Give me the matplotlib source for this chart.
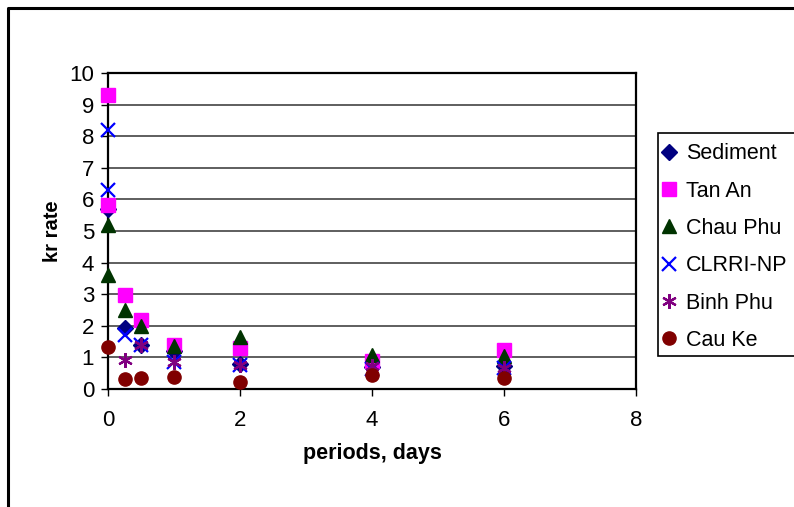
import matplotlib
matplotlib.use("Agg")
import matplotlib.pyplot as plt
from matplotlib.lines import Line2D
from matplotlib.patches import Rectangle

# ---- data -------------------------------------------------------------
sediment_x = [0, 0.25, 0.5, 1, 2, 4, 6]
sediment_y = [5.7, 1.93, 1.40, 1.20, 0.80, 0.70, 0.72]

tan_an_x = [0, 0, 0.25, 0.5, 1, 2, 4, 6]
tan_an_y = [9.30, 5.82, 2.97, 2.18, 1.40, 1.30, 0.88, 1.22]

chau_phu_x = [0, 0, 0.25, 0.5, 1, 2, 4, 6]
chau_phu_y = [5.20, 3.62, 2.50, 1.98, 1.35, 1.66, 1.08, 1.03]

clrri_x = [0, 0, 0.25, 0.5, 1, 2, 4, 6]
clrri_y = [8.20, 6.30, 1.70, 1.38, 0.85, 0.75, 0.62, 0.66]

binh_phu_x = [0.25, 0.5, 1, 2, 4, 6]
binh_phu_y = [0.93, 1.38, 0.85, 0.75, 0.72, 0.68]

cau_ke_x = [0, 0.25, 0.5, 1, 2, 4, 6]
cau_ke_y = [1.33, 0.32, 0.35, 0.38, 0.22, 0.45, 0.35]

series_names = ["Sediment", "Tan An", "Chau Phu", "CLRRI-NP", "Binh Phu", "Cau Ke"]
x_ticks = [0, 2, 4, 6, 8]
y_ticks = list(range(0, 11))

# ---- figure -----------------------------------------------------------
W, H = 794, 507
fig = plt.figure(figsize=(W / 100, H / 100), dpi=100)
fig.patch.set_facecolor("white")

def fx(px):
    return px / W

def fy(py):
    return 1 - py / H

font = "Liberation Sans"
plt.rcParams["font.family"] = [font, "DejaVu Sans"]

ax = fig.add_axes([fx(108), fy(389), fx(636) - fx(108), fy(73) - fy(389)])

styles = [
    dict(marker="D", color="#000080", ms=8.5),
    dict(marker="s", color="#FF00FF", ms=9.5),
    dict(marker="^", color="#003300", ms=10),
    dict(marker="x", color="#0000FF", ms=10.5, mew=1.6),
    dict(marker=(6, 2, 0), color="#800080", ms=10.5, mew=1.6),
    dict(marker="o", color="#800000", ms=9.5),
]
data = [
    (sediment_x, sediment_y),
    (tan_an_x, tan_an_y),
    (chau_phu_x, chau_phu_y),
    (clrri_x, clrri_y),
    (binh_phu_x, binh_phu_y),
    (cau_ke_x, cau_ke_y),
]

handles = []
for (xs, ys), st, name in zip(data, styles, series_names):
    h, = ax.plot(xs, ys, linestyle="none", marker=st["marker"],
                 color=st["color"], markersize=st["ms"],
                 markeredgewidth=st.get("mew", 1.0), label=name,
                 clip_on=False, zorder=3)
    handles.append(h)

ax.set_xlim(0, 8)
ax.set_ylim(0, 10)
ax.set_xticks(x_ticks)
ax.set_yticks(y_ticks)
ax.tick_params(axis="both", direction="out", length=5, width=1,
               labelsize=16, colors="black")
ax.tick_params(axis="x", pad=10)
ax.tick_params(axis="y", pad=5)

ax.yaxis.grid(True, color="#333333", linewidth=1.1)
ax.set_axisbelow(True)
for side in ["left", "bottom", "right", "top"]:
    ax.spines[side].set_color("black")
    ax.spines[side].set_linewidth(1.6)

ax.set_xlabel("periods, days", fontsize=15.5, fontweight="bold", labelpad=9)
ax.set_ylabel("kr rate", fontsize=14.5, fontweight="bold", labelpad=5)

# legend box and entries
fig.add_artist(Rectangle((fx(658), fy(356)), fx(820) - fx(658), fy(133) - fy(356),
                         transform=fig.transFigure, facecolor="white",
                         edgecolor="black", linewidth=1.2))
fig.legend(handles=handles, loc="upper left",
           bbox_to_anchor=(fx(643), fy(126)), frameon=False,
           fontsize=15.5, handlelength=0.8, handletextpad=0.4,
           labelspacing=0.76, borderpad=0.3)

# outer chart frame
fig.add_artist(Line2D([fx(8), fx(8), fx(800)], [fy(510), fy(8), fy(8)],
                      transform=fig.transFigure, color="black", linewidth=2.2))

fig.savefig("out.png", dpi=100, facecolor="white")
